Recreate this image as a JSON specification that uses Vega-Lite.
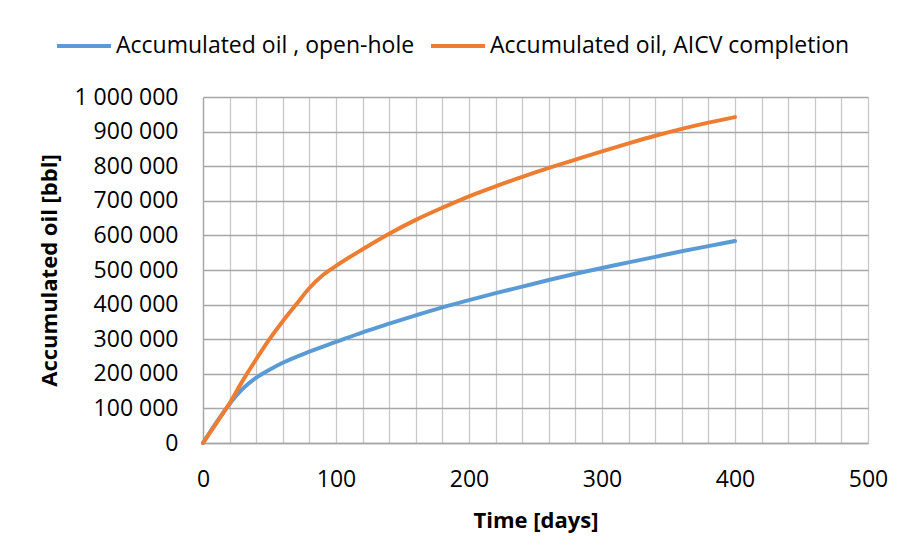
{
  "$schema": "https://vega.github.io/schema/vega-lite/v6.json",
  "width": 665,
  "height": 346,
  "autosize": {"type": "none"},
  "padding": {"left": 203, "top": 97, "right": 31, "bottom": 113},
  "background": "white",
  "config": {
    "font": "Open Sans",
    "view": {"stroke": null}
  },
  "data": {
    "values": [
      {"series": "Accumulated oil , open-hole", "day": 0, "oil": 0},
      {"series": "Accumulated oil , open-hole", "day": 10, "oil": 59000},
      {"series": "Accumulated oil , open-hole", "day": 20, "oil": 113000},
      {"series": "Accumulated oil , open-hole", "day": 30, "oil": 157000},
      {"series": "Accumulated oil , open-hole", "day": 40, "oil": 189000},
      {"series": "Accumulated oil , open-hole", "day": 50, "oil": 212000},
      {"series": "Accumulated oil , open-hole", "day": 60, "oil": 232000},
      {"series": "Accumulated oil , open-hole", "day": 80, "oil": 264000},
      {"series": "Accumulated oil , open-hole", "day": 100, "oil": 292000},
      {"series": "Accumulated oil , open-hole", "day": 120, "oil": 320000},
      {"series": "Accumulated oil , open-hole", "day": 140, "oil": 345000},
      {"series": "Accumulated oil , open-hole", "day": 160, "oil": 369000},
      {"series": "Accumulated oil , open-hole", "day": 180, "oil": 392000},
      {"series": "Accumulated oil , open-hole", "day": 200, "oil": 413000},
      {"series": "Accumulated oil , open-hole", "day": 220, "oil": 433000},
      {"series": "Accumulated oil , open-hole", "day": 240, "oil": 452000},
      {"series": "Accumulated oil , open-hole", "day": 260, "oil": 471000},
      {"series": "Accumulated oil , open-hole", "day": 280, "oil": 489000},
      {"series": "Accumulated oil , open-hole", "day": 300, "oil": 506000},
      {"series": "Accumulated oil , open-hole", "day": 320, "oil": 522000},
      {"series": "Accumulated oil , open-hole", "day": 340, "oil": 538000},
      {"series": "Accumulated oil , open-hole", "day": 360, "oil": 554000},
      {"series": "Accumulated oil , open-hole", "day": 380, "oil": 569000},
      {"series": "Accumulated oil , open-hole", "day": 400, "oil": 584000},
      {"series": "Accumulated oil, AICV completion", "day": 0, "oil": 0},
      {"series": "Accumulated oil, AICV completion", "day": 10, "oil": 57000},
      {"series": "Accumulated oil, AICV completion", "day": 20, "oil": 115000},
      {"series": "Accumulated oil, AICV completion", "day": 30, "oil": 181000},
      {"series": "Accumulated oil, AICV completion", "day": 40, "oil": 242000},
      {"series": "Accumulated oil, AICV completion", "day": 50, "oil": 300000},
      {"series": "Accumulated oil, AICV completion", "day": 60, "oil": 352000},
      {"series": "Accumulated oil, AICV completion", "day": 70, "oil": 400000},
      {"series": "Accumulated oil, AICV completion", "day": 80, "oil": 448000},
      {"series": "Accumulated oil, AICV completion", "day": 90, "oil": 485000},
      {"series": "Accumulated oil, AICV completion", "day": 100, "oil": 512000},
      {"series": "Accumulated oil, AICV completion", "day": 120, "oil": 560000},
      {"series": "Accumulated oil, AICV completion", "day": 140, "oil": 605000},
      {"series": "Accumulated oil, AICV completion", "day": 160, "oil": 645000},
      {"series": "Accumulated oil, AICV completion", "day": 180, "oil": 680000},
      {"series": "Accumulated oil, AICV completion", "day": 200, "oil": 713000},
      {"series": "Accumulated oil, AICV completion", "day": 220, "oil": 742000},
      {"series": "Accumulated oil, AICV completion", "day": 240, "oil": 769000},
      {"series": "Accumulated oil, AICV completion", "day": 260, "oil": 795000},
      {"series": "Accumulated oil, AICV completion", "day": 280, "oil": 819000},
      {"series": "Accumulated oil, AICV completion", "day": 300, "oil": 843000},
      {"series": "Accumulated oil, AICV completion", "day": 320, "oil": 866000},
      {"series": "Accumulated oil, AICV completion", "day": 340, "oil": 888000},
      {"series": "Accumulated oil, AICV completion", "day": 360, "oil": 908000},
      {"series": "Accumulated oil, AICV completion", "day": 380, "oil": 926000},
      {"series": "Accumulated oil, AICV completion", "day": 400, "oil": 942000}
    ]
  },
  "mark": {"type": "line", "strokeWidth": 4, "strokeCap": "round", "interpolate": "monotone"},
  "encoding": {
    "x": {
      "field": "day",
      "type": "quantitative",
      "scale": {"domain": [0, 500], "nice": false},
      "axis": {
        "title": "Time [days]",
        "values": [0, 20, 40, 60, 80, 100, 120, 140, 160, 180, 200, 220, 240, 260, 280, 300, 320, 340, 360, 380, 400, 420, 440, 460, 480, 500],
        "labelExpr": "datum.value % 100 == 0 ? datum.label : ''",
        "labelFontSize": 23,
        "labelColor": "#000000",
        "labelPadding": 25,
        "labelFlush": false,
        "labelOverlap": false,
        "ticks": false,
        "grid": true,
        "gridColor": "#c8c8c8",
        "gridWidth": 1.3,
        "domainColor": "#a6a6a6",
        "domainWidth": 1.3,
        "titleFontSize": 22,
        "titleFontWeight": "bold",
        "titleColor": "#000000",
        "titlePadding": 19
      }
    },
    "y": {
      "field": "oil",
      "type": "quantitative",
      "scale": {"domain": [0, 1000000], "nice": false},
      "axis": {
        "title": "Accumulated oil [bbl]",
        "values": [0, 100000, 200000, 300000, 400000, 500000, 600000, 700000, 800000, 900000, 1000000],
        "labelExpr": "replace(format(datum.value, ','), regexp(',', 'g'), ' ')",
        "labelFontSize": 23,
        "labelColor": "#000000",
        "labelPadding": 25,
        "labelFlush": false,
        "labelOverlap": false,
        "ticks": false,
        "grid": true,
        "gridColor": "#a6a6a6",
        "gridWidth": 1.3,
        "domainColor": "#a6a6a6",
        "domainWidth": 1.3,
        "titleFontSize": 22,
        "titleFontWeight": "bold",
        "titleColor": "#000000",
        "titlePadding": 12
      }
    },
    "color": {
      "field": "series",
      "type": "nominal",
      "scale": {
        "domain": ["Accumulated oil , open-hole", "Accumulated oil, AICV completion"],
        "range": ["#5b9bd5", "#ed7d31"]
      },
      "legend": {
        "title": null,
        "orient": "none",
        "direction": "horizontal",
        "legendX": -148,
        "legendY": -80,
        "symbolType": "stroke",
        "symbolSize": 2916,
        "symbolStrokeWidth": 4,
        "labelFontSize": 23,
        "labelColor": "#000000",
        "labelOffset": 3,
        "columnPadding": 8,
        "labelLimit": 500
      }
    }
  }
}
